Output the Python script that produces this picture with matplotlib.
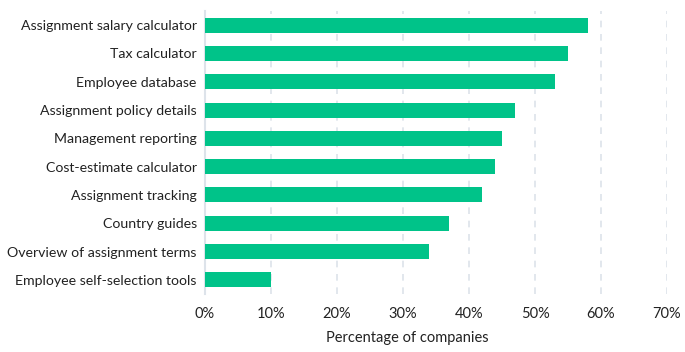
import matplotlib
matplotlib.use("Agg")
import matplotlib.pyplot as plt

# Данные
categories = [
    "Assignment salary calculator",
    "Tax calculator",
    "Employee database",
    "Assignment policy details",
    "Management reporting",
    "Cost-estimate calculator",
    "Assignment tracking",
    "Country guides",
    "Overview of assignment terms",
    "Employee self-selection tools",
]
values = [58, 55, 53, 47, 45, 44, 42, 37, 34, 10]
xticks = [0, 10, 20, 30, 40, 50, 60, 70]

plt.rcParams['font.family'] = ['Lato', 'DejaVu Sans']

fig = plt.figure(figsize=(6.85, 3.52), dpi=100)
ax = fig.add_axes([205 / 685, 58 / 352, 462 / 685, 283 / 352])

ax.barh(range(len(categories)), values, height=0.53, color="#00c389", zorder=3)

ax.set_ylim(len(categories) - 0.5, -0.5)
ax.set_xlim(0, 70)
ax.set_yticks(range(len(categories)))
ax.set_yticklabels(categories, fontsize=10.2, color="#222222")
ax.set_xticks(xticks)
ax.set_xticklabels([f"{x}%" for x in xticks], fontsize=10.5, color="#222222")
ax.tick_params(axis='y', length=0, pad=6)
ax.tick_params(axis='x', length=0, pad=9)

# Сетка
for x in xticks[1:]:
    ax.axvline(x, color="#dde3ea", linestyle=(0, (4, 4)), linewidth=1.2, zorder=1)

for s in ["top", "right", "bottom"]:
    ax.spines[s].set_visible(False)
ax.spines["left"].set_color("#dde3ea")
ax.spines["left"].set_linewidth(1.5)

ax.set_xlabel("Percentage of companies", fontsize=10.5, color="#222222")
ax.xaxis.set_label_coords(0.437, -0.13)

plt.savefig("out.png", dpi=100)
